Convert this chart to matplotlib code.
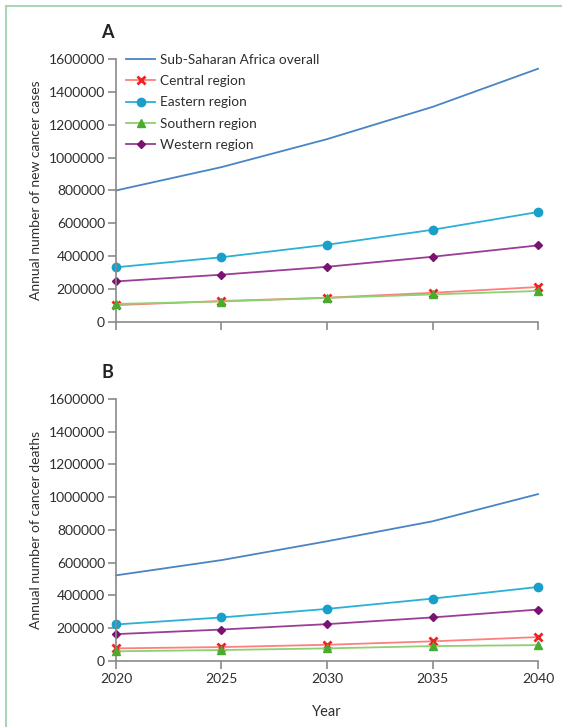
import matplotlib.pyplot as plt
from matplotlib.lines import Line2D

years = [2020, 2025, 2030, 2035, 2040]

# panel A: annual number of new cancer cases
cases_overall = [800000, 942000, 1112000, 1308000, 1540000]
cases_central = [103000, 128000, 148000, 178000, 213000]
cases_eastern = [333000, 394000, 470000, 561000, 669000]
cases_southern = [110000, 125000, 147000, 168000, 189000]
cases_western = [247000, 288000, 336000, 397000, 466000]

# panel B: annual number of cancer deaths
deaths_overall = [523000, 616000, 731000, 853000, 1019000]
deaths_central = [77000, 85000, 99000, 120000, 146000]
deaths_eastern = [223000, 266000, 318000, 381000, 452000]
deaths_southern = [59000, 67000, 77000, 91000, 97000]
deaths_western = [164000, 192000, 225000, 266000, 314000]

yticks = [0, 200000, 400000, 600000, 800000, 1000000, 1200000, 1400000, 1600000]

plt.rcParams['font.family'] = ['Lato', 'DejaVu Sans']
txt = '#2e2e2e'
spine = '#8a8a8a'

fig = plt.figure(figsize=(5.62, 7.27), dpi=100)
axA = fig.add_axes([0.2064, 0.557, 0.7509, 0.362])
axB = fig.add_axes([0.2064, 0.0908, 0.7509, 0.3604])

# thin green frame on the left and top
fig.add_artist(Line2D([0.011, 0.011], [0, 0.992], transform=fig.transFigure, color='#a8d5b5', lw=1.5))
fig.add_artist(Line2D([0.011, 1.0], [0.992, 0.992], transform=fig.transFigure, color='#a8d5b5', lw=1.5))


def draw(ax, overall, central, eastern, southern, western):
    ax.plot(years, overall, color='#4a84c4', lw=1.3, label='Sub-Saharan Africa overall', clip_on=False)
    ax.plot(years, central, color='#ff7f7f', lw=1.3, marker='x', ms=6, mew=2,
            mec='#ee2222', label='Central region', clip_on=False)
    ax.plot(years, eastern, color='#2bb0d6', lw=1.3, marker='o', ms=6,
            mfc='#1a9fc8', mec='#1a9fc8', label='Eastern region', clip_on=False)
    ax.plot(years, southern, color='#8fd070', lw=1.3, marker='^', ms=6,
            mfc='#4aab2e', mec='#4aab2e', label='Southern region', clip_on=False, zorder=3)
    ax.plot(years, western, color='#9b3d98', lw=1.3, marker='D', ms=4.5,
            mfc='#7a136f', mec='#7a136f', label='Western region', clip_on=False)
    ax.set_xlim(2020, 2040)
    ax.set_ylim(0, 1600000)
    ax.set_xticks(years)
    ax.set_yticks(yticks)
    ax.set_yticklabels([str(v) for v in yticks])
    for s in ['top', 'right']:
        ax.spines[s].set_visible(False)
    for s in ['left', 'bottom']:
        ax.spines[s].set_color(spine)
        ax.spines[s].set_linewidth(1.2)
    ax.tick_params(axis='both', colors=spine, labelcolor=txt, labelsize=10, length=6, width=1.2, pad=2)
    ax.tick_params(axis='x', pad=3)


draw(axA, cases_overall, cases_central, cases_eastern, cases_southern, cases_western)
draw(axB, deaths_overall, deaths_central, deaths_eastern, deaths_southern, deaths_western)

axA.tick_params(axis='x', labelbottom=False)
axA.set_ylabel('Annual number of new cancer cases', fontsize=10, color=txt, labelpad=5)
axB.set_ylabel('Annual number of cancer deaths', fontsize=10, color=txt, labelpad=5)
axB.set_xlabel('Year', fontsize=10.5, color=txt, labelpad=14)

axA.text(-0.02, 1.08, 'A', transform=axA.transAxes, fontsize=13, fontweight='bold', color='#222222', ha='center')
axB.text(-0.02, 1.08, 'B', transform=axB.transAxes, fontsize=13, fontweight='bold', color='#222222', ha='center')

leg = axA.legend(loc='upper left', bbox_to_anchor=(0.005, 1.05), frameon=False, fontsize=9.8,
                 handlelength=2.1, handletextpad=0.35, labelspacing=0.68, borderaxespad=0.2)
for t in leg.get_texts():
    t.set_color(txt)

fig.savefig('out.png', dpi=100)
